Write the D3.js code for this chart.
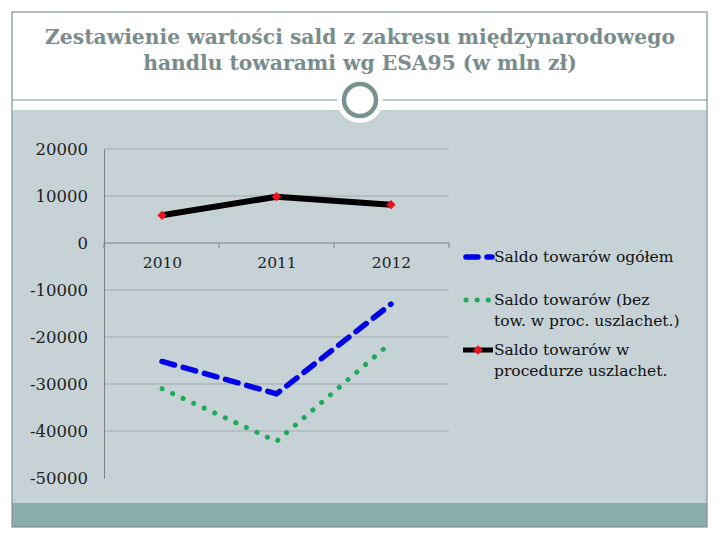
<!DOCTYPE html>
<html lang="pl">
<head>
<meta charset="utf-8">
<title>Zestawienie wartości sald</title>
<script src="https://cdn.jsdelivr.net/npm/d3@7"></script>
<style>
  body { margin: 0; background: #fff; }
  text { font-family: "DejaVu Serif", "Liberation Serif", serif; }
</style>
</head>
<body>
<script>
// data
var years = ["2010", "2011", "2012"];
var saldoOgolem = [-25200, -32100, -13000];
var saldoBez = [-31000, -42200, -21200];
var saldoUszlachet = [5900, 9850, 8150];
var yTicks = [20000, 10000, 0, -10000, -20000, -30000, -40000, -50000];
var titleLines = ["Zestawienie wartości sald z zakresu międzynarodowego",
                  "handlu towarami wg ESA95 (w mln zł)"];

var svg = d3.select("body").append("svg")
  .attr("width", 720).attr("height", 540);

// slide frame
svg.append("rect").attr("x", 12).attr("y", 110).attr("width", 695).attr("height", 393)
  .attr("fill", "#c7d2d7");
svg.append("rect").attr("x", 12).attr("y", 503).attr("width", 695).attr("height", 24)
  .attr("fill", "#8aaeae");
svg.append("rect").attr("x", 12).attr("y", 12).attr("width", 695).attr("height", 515)
  .attr("fill", "none").attr("stroke", "#7f9191").attr("stroke-width", 1.2);
svg.append("line").attr("x1", 12).attr("x2", 707).attr("y1", 100).attr("y2", 100)
  .attr("stroke", "#7f9191").attr("stroke-width", 1.2);

svg.append("circle").attr("cx", 360).attr("cy", 100).attr("r", 23).attr("fill", "#fff");
svg.append("circle").attr("cx", 360).attr("cy", 100).attr("r", 16)
  .attr("fill", "#fff").attr("stroke", "#7a9191").attr("stroke-width", 4.5);

svg.selectAll("text.title").data(titleLines).enter().append("text")
  .attr("class", "title")
  .attr("x", 360).attr("y", function(d, i) { return 44 + i * 26; })
  .attr("text-anchor", "middle")
  .attr("font-size", 20.3)
  .attr("font-weight", "bold")
  .attr("fill", "#7a8c8c")
  .text(function(d) { return d; });

// chart
var x = d3.scalePoint().domain(years).range([162, 391]);
var y = d3.scaleLinear().domain([-50000, 20000]).range([478, 149]);

svg.selectAll("line.grid").data(yTicks.filter(function(d) { return d !== 0 && d !== -50000; }))
  .enter().append("line").attr("class", "grid")
  .attr("x1", 104).attr("x2", 449)
  .attr("y1", function(d) { return y(d); }).attr("y2", function(d) { return y(d); })
  .attr("stroke", "#9ea9ad").attr("stroke-width", 1);

var yAxis = svg.append("g").attr("transform", "translate(104,0)")
  .call(d3.axisLeft(y).tickValues(yTicks).tickSize(0).tickPadding(16)
    .tickFormat(function(d) { return String(d); }));
yAxis.select(".domain").attr("stroke", "#7a8080");
yAxis.selectAll("text").attr("font-size", 16.5).attr("fill", "#222")
  .style("font-family", "'DejaVu Serif', serif");

var xb = d3.scaleBand().domain(years).range([104, 449]);
var xAxis = svg.append("g").attr("transform", "translate(0," + y(0) + ")")
  .call(d3.axisBottom(x).tickSize(0).tickPadding(14));
xAxis.select(".domain").remove();
xAxis.selectAll("text").attr("font-size", 15.5).attr("fill", "#222")
  .style("font-family", "'DejaVu Serif', serif");
svg.append("line").attr("x1", 104).attr("x2", 449).attr("y1", y(0)).attr("y2", y(0))
  .attr("stroke", "#7a8080");
var bounds = years.map(function(d) { return xb(d); }).concat([449]);
svg.selectAll("line.xtick").data(bounds).enter().append("line")
  .attr("x1", function(d) { return d; }).attr("x2", function(d) { return d; })
  .attr("y1", y(0)).attr("y2", y(0) + 5).attr("stroke", "#7a8080");

var line = d3.line()
  .x(function(d, i) { return x(years[i]); })
  .y(function(d) { return y(d); });

svg.append("path").datum(saldoBez).attr("d", line)
  .attr("fill", "none").attr("stroke", "#1daa5a").attr("stroke-width", 5)
  .attr("stroke-linecap", "round").attr("stroke-dasharray", "0.1 11.5");
svg.append("path").datum(saldoOgolem).attr("d", line)
  .attr("fill", "none").attr("stroke", "#0000e8").attr("stroke-width", 5.5)
  .attr("stroke-linecap", "round").attr("stroke-linejoin", "round")
  .attr("stroke-dasharray", "13 9");
svg.append("path").datum(saldoUszlachet).attr("d", line)
  .attr("fill", "none").attr("stroke", "#000").attr("stroke-width", 6)
  .attr("stroke-linejoin", "round");
svg.selectAll("path.mark").data(saldoUszlachet).enter().append("path")
  .attr("class", "mark")
  .attr("transform", function(d, i) { return "translate(" + x(years[i]) + "," + y(d) + ")"; })
  .attr("d", d3.symbol().type(d3.symbolDiamond2).size(55))
  .attr("fill", "#e8141c");

// legend
var lg = svg.append("g");
lg.append("line").attr("x1", 466).attr("x2", 492).attr("y1", 257).attr("y2", 257)
  .attr("stroke", "#0000e8").attr("stroke-width", 5.5).attr("stroke-linecap", "round")
  .attr("stroke-dasharray", "12 9");
lg.append("line").attr("x1", 466).attr("x2", 492).attr("y1", 300).attr("y2", 300)
  .attr("stroke", "#1daa5a").attr("stroke-width", 5).attr("stroke-linecap", "round")
  .attr("stroke-dasharray", "0.1 11");
lg.append("line").attr("x1", 463).attr("x2", 493).attr("y1", 350).attr("y2", 350)
  .attr("stroke", "#000").attr("stroke-width", 5);
lg.append("path").attr("transform", "translate(478,350)")
  .attr("d", d3.symbol().type(d3.symbolDiamond2).size(55)).attr("fill", "#e8141c");

var legendText = [
  ["Saldo towarów ogółem", 262],
  ["Saldo towarów (bez", 305],
  ["tow. w proc. uszlachet.)", 326],
  ["Saldo towarów w", 355],
  ["procedurze uszlachet.", 376]
];
lg.selectAll("text").data(legendText).enter().append("text")
  .attr("x", 494).attr("y", function(d) { return d[1]; })
  .attr("font-size", 15.5).attr("fill", "#111")
  .text(function(d) { return d[0]; });
</script>
</body>
</html>
